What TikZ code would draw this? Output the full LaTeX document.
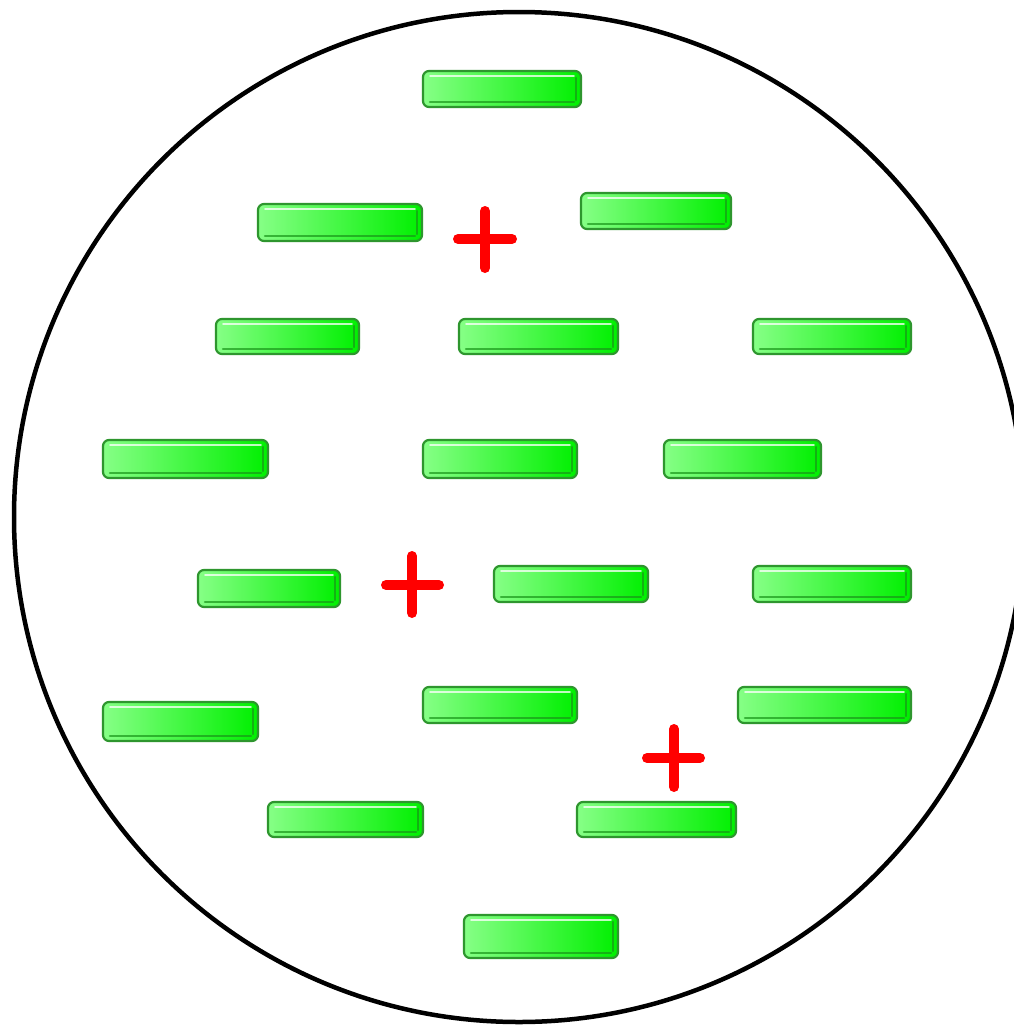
\documentclass[tikz,border=0pt]{standalone}
\begin{document}
\begin{tikzpicture}[x=1pt,y=-1pt]
\definecolor{barlight}{HTML}{86FF86}
\definecolor{barmain}{HTML}{00F000}
\definecolor{baredge}{HTML}{2E962E}
\definecolor{bardark}{HTML}{1A961A}
\definecolor{plusred}{HTML}{FF0000}
\tikzset{
  barbody/.style={rounded corners=6pt, left color=barlight, right color=barmain, draw=baredge, line width=2.2pt},
  barhi/.style={white, opacity=0.75, line width=1.8pt, line cap=round},
  barlow/.style={bardark, opacity=0.7, line width=2.4pt, line cap=round},
  plusline/.style={plusred, line width=10pt, line cap=round},
  ring/.style={black, line width=4.5pt}
}
\newcommand\gbar[5]{%
  \draw[barbody] (#1,#2) rectangle (#3,#4);
  \draw[barhi] (#1+7,#2+5) -- (#3-7,#2+5);
  \draw[barlow] (#1+7,#4-5) -- (#3-7,#4-5);
  \draw[barlow] (#3-5,#2+7) -- (#3-5,#4-7);
  \coordinate (#5) at ({(#1+#3)/2},{(#2+#4)/2});
}
\newcommand\gplus[7]{%
  \coordinate (#7) at (#1,#2);
  \draw[plusline] (#3,#2) -- (#4,#2);
  \draw[plusline] (#1,#5) -- (#1,#6);
}
\useasboundingbox (0,0) rectangle (1014,1026);
\fill[white] (0,0) rectangle (1014,1026);
\begin{scope}
\clip (0,0) rectangle (1014,1026);
\draw[ring] (519,517) circle[radius=505];
\end{scope}
\gbar{423}{71}{581}{107}{b1}
\gbar{258}{204}{422}{241}{b2}
\gbar{581}{193}{731}{229}{b3}
\gbar{216}{319}{359}{354}{b4}
\gbar{459}{319}{618}{354}{b5}
\gbar{753}{319}{911}{354}{b6}
\gbar{103}{440}{268}{478}{b7}
\gbar{423}{440}{577}{478}{b8}
\gbar{664}{440}{821}{478}{b9}
\gbar{198}{570}{340}{607}{b10}
\gbar{494}{566}{648}{602}{b11}
\gbar{753}{566}{911}{602}{b12}
\gbar{103}{702}{258}{741}{b13}
\gbar{423}{687}{577}{723}{b14}
\gbar{738}{687}{911}{723}{b15}
\gbar{268}{802}{423}{837}{b16}
\gbar{577}{802}{736}{837}{b17}
\gbar{464}{915}{618}{958}{b18}
\gplus{485}{239}{458}{512}{211}{268}{p1}
\gplus{412}{585}{386}{439}{556}{613}{p2}
\gplus{674}{758}{647}{700}{729}{787}{p3}
\end{tikzpicture}
\end{document}
